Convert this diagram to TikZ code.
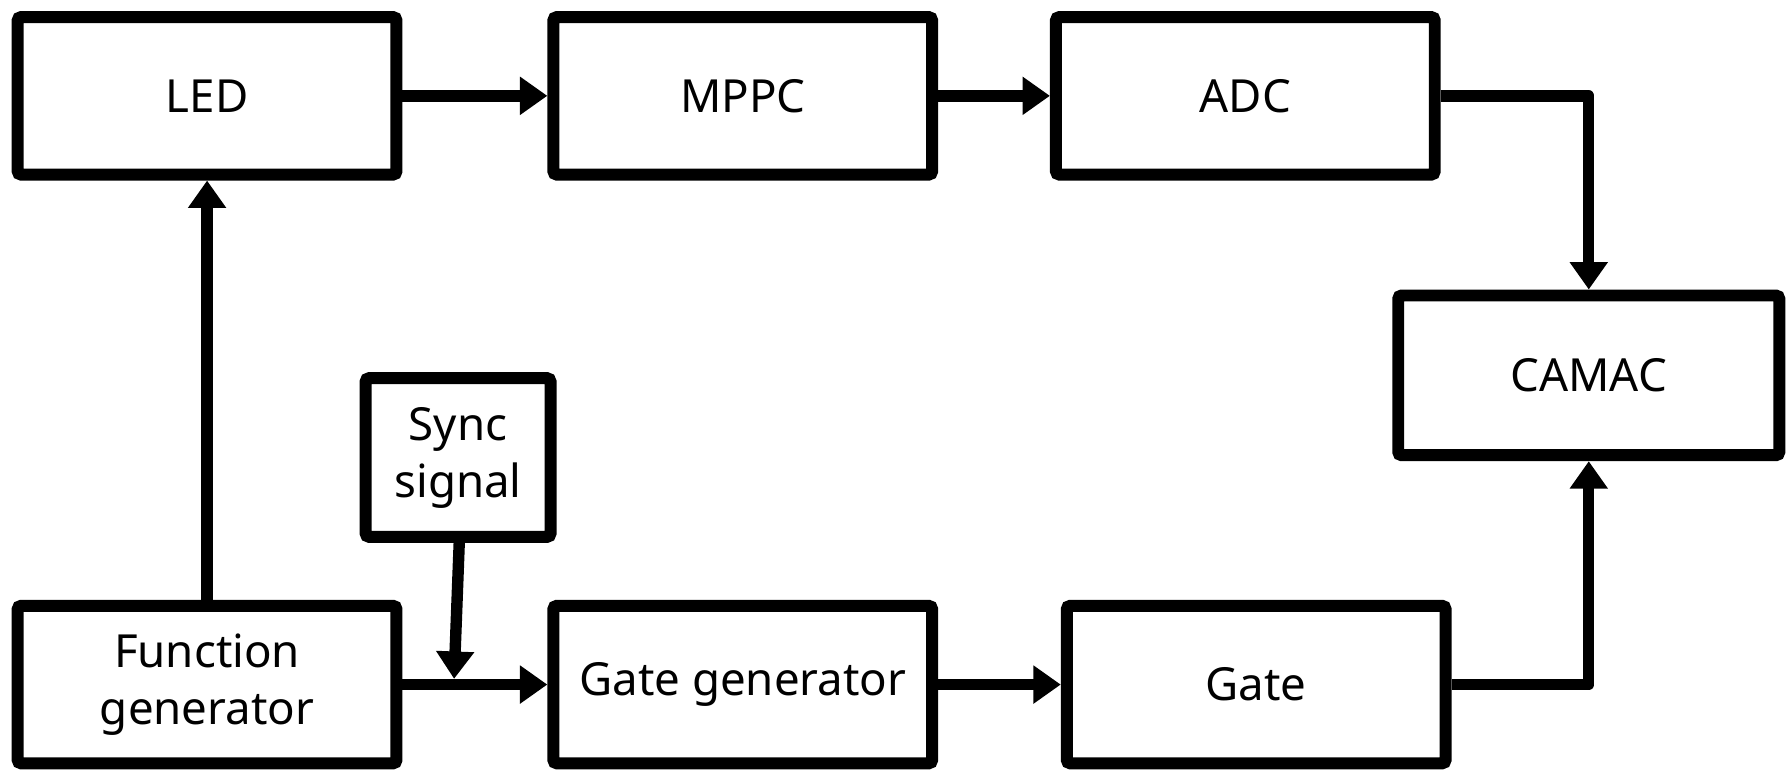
\documentclass[tikz,border=0pt]{standalone}
\usepackage{fontspec}
\setmainfont{Noto Sans}
\usetikzlibrary{arrows.meta,positioning}
\begin{document}
\begin{tikzpicture}[x=0.5pt,y=-0.5pt,
  blk/.style={draw=black, line width=5.25pt, rounded corners=1.5pt, fill=white,
    minimum width=166pt, minimum height=69pt, align=center, inner sep=0pt,
    font=\fontsize{20}{25}\selectfont},
  conn/.style={line width=5pt, line join=round,
    -{Triangle[length=12pt,width=16pt]}}]
\useasboundingbox (0,0) rectangle (1568,678);
\node[blk] (led)  at (181.5,84)  {LED};
\node[blk] (mppc) at (651,84)  {MPPC};
\node[blk] (adc)  at (1091.5,84) {ADC};
\node[blk, minimum width=167pt, minimum height=70pt] (camac) at (1392.5,329) {CAMAC};
\node[blk, minimum width=81pt, minimum height=69.5pt] (sync) at (401.5,401) {Sync\\signal};
\node[blk] (fg)   at (181.5,600) {Function\\generator};
\node[blk] (gg)   at (651,600) {Gate generator};
\node[blk] (gate) at (1101,600) {Gate};
\coordinate (sj) at (398,595);
\draw[conn] (led.east) -- (mppc.west);
\draw[conn] (mppc.east) -- (adc.west);
\draw[conn] (adc.east) -| (camac.north);
\draw[conn] (gate.east) -| (camac.south);
\draw[conn] (fg.north) -- (led.south);
\draw[conn] (fg.east) -- (gg.west);
\draw[conn] (sync.south) ++(1,0) -- (sj);
\draw[conn] (gg.east) -- (gate.west);
\end{tikzpicture}
\end{document}
